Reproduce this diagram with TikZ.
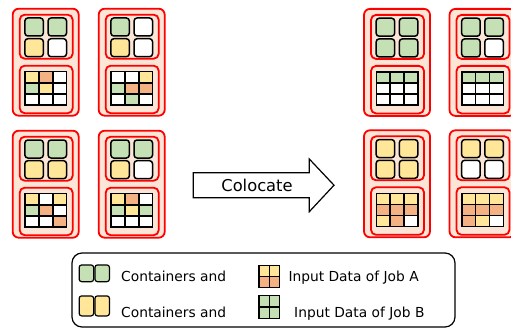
\documentclass[tikz,border=0pt]{standalone}
\usepackage{fontspec}
\setmainfont{DejaVu Sans}
\definecolor{cG}{HTML}{C5E0B4}
\definecolor{cY}{HTML}{FFE699}
\definecolor{cO}{HTML}{F4B183}
\colorlet{cW}{white}
\definecolor{peach}{HTML}{FBE5D6}
\tikzset{
  outerbox/.style={draw=red, fill=peach, line width=1.8pt, rounded corners=6pt, minimum width=66pt, minimum height=107pt, inner sep=0pt},
  innerbox/.style={draw=red, fill=peach, line width=1.8pt, rounded corners=5pt, minimum width=53pt, inner sep=0pt},
  cont/.style={draw=black, line width=1.5pt, rounded corners=3pt, minimum width=18.5pt, minimum height=18pt, inner sep=0pt},
  gcell/.style={draw=black, line width=1.5pt, minimum width=13.9pt, minimum height=11.1pt, inner sep=0pt},
  lcont/.style={draw=black, line width=1.2pt, rounded corners=2.5pt, minimum width=14.5pt, inner sep=0pt},
  lcell/.style={draw=black, line width=1.2pt, minimum width=10.2pt, inner sep=0pt},
  legtext/.style={anchor=base west, inner sep=0pt, font=\fontsize{13.8}{16}\selectfont},
}
\newcommand\srv[5]{%
  \begin{scope}[shift={(#2,#3)}]
    \node[outerbox] (#1) at (33,53.5) {};
    \node[innerbox, minimum height=44pt] (#1-top) at (33.5,28) {};
    \node[innerbox, minimum height=47.5pt] (#1-bot) at (33.5,80.75) {};
    \foreach \c [count=\i from 0] in {#4}{
      \pgfmathtruncatemacro\col{mod(\i,2)}
      \pgfmathtruncatemacro\row{\i/2}
      \node[cont, fill=\c] (#1-c\i) at ({21.4+23.2*\col},{18.3+20.7*\row}) {};
    }
    \foreach \c [count=\i from 0] in {#5}{
      \pgfmathtruncatemacro\col{mod(\i,3)}
      \pgfmathtruncatemacro\row{\i/3}
      \node[gcell, fill=\c] (#1-g\i) at ({19.25+13.9*\col},{68.55+11.1*\row}) {};
    }
  \end{scope}%
}
\begin{document}
\begin{tikzpicture}[x=1pt, y=-1pt]
\useasboundingbox (0,0) rectangle (511,329);
\clip (0,0) rectangle (511,329);
% left servers
\srv{sA}{12.7}{8.7}{cG,cG,cY,cW}{cY,cO,cW,cG,cY,cW,cW,cW,cW}
\srv{sB}{98.7}{8.7}{cG,cW,cY,cW}{cW,cW,cY,cG,cO,cO,cW,cG,cW}
\srv{sC}{12.7}{130.7}{cG,cG,cY,cY}{cY,cW,cY,cG,cO,cW,cW,cW,cO}
\srv{sD}{98.7}{130.7}{cG,cG,cY,cW}{cY,cO,cW,cG,cY,cG,cW,cW,cW}
% right servers
\srv{sE}{364}{8.9}{cG,cG,cG,cG}{cG,cG,cG,cW,cW,cW,cW,cW,cW}
\srv{sF}{449.5}{8.9}{cG,cG,cG,cW}{cG,cG,cG,cW,cW,cW,cW,cW,cW}
\srv{sG}{364}{130.3}{cY,cY,cY,cY}{cY,cY,cY,cO,cO,cO,cY,cO,cW}
\srv{sH}{449.5}{130.3}{cY,cY,cW,cW}{cY,cY,cY,cO,cO,cO,cO,cY,cW}
% arrow
\draw[line width=1.2pt, fill=white, line join=miter]
  (193.3,172.7) -- (309.3,172.7) -- (309.3,159) -- (334,185.2)
  -- (309.3,211.7) -- (309.3,197.7) -- (193.3,197.7) -- cycle;
\node[anchor=base, inner sep=0pt, font=\fontsize{16.3}{18}\selectfont] (colocate) at (257,191.6) {Colocate};
% legend
\node[draw=black, line width=1.2pt, rounded corners=10pt, minimum width=383pt, minimum height=74pt, inner sep=0pt] (legend) at (263.5,290) {};
\node[lcont, fill=cG, minimum height=16.7pt] (lg1) at (86.4,273.3) {};
\node[lcont, fill=cG, minimum height=16.7pt] (lg2) at (102.2,273.3) {};
\node[lcont, fill=cY, minimum height=20pt] (ly1) at (86.4,305.9) {};
\node[lcont, fill=cY, minimum height=20pt] (ly2) at (102.2,305.9) {};
\node[legtext] (t1) at (121,281) {Containers and};
\node[legtext] (t2) at (121,317.6) {Containers and};
\node[lcell, fill=cY, minimum height=11pt] (la1) at (264.1,271.2) {};
\node[lcell, fill=cY, minimum height=11pt] (la2) at (274.3,271.2) {};
\node[lcell, fill=cO, minimum height=11pt] (la3) at (264.1,282.2) {};
\node[lcell, fill=cO, minimum height=11pt] (la4) at (274.3,282.2) {};
\node[lcell, fill=cG, minimum height=11.3pt] (lb1) at (264.1,301.4) {};
\node[lcell, fill=cG, minimum height=11.3pt] (lb2) at (274.3,301.4) {};
\node[lcell, fill=cG, minimum height=11.3pt] (lb3) at (264.1,312.7) {};
\node[lcell, fill=cG, minimum height=11.3pt] (lb4) at (274.3,312.7) {};
\node[legtext] (t3) at (288.3,281) {Input Data of Job A};
\node[legtext] (t4) at (294,317.6) {Input Data of Job B};
\end{tikzpicture}
\end{document}
